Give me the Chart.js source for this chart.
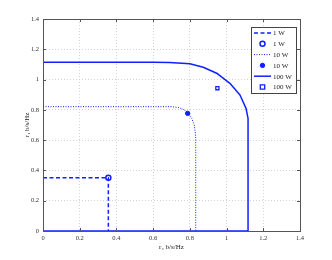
<!DOCTYPE html>
<html lang="en">
<head>
    <meta charset="UTF-8">
    <title>Rate Regions</title>
    <script src="https://cdn.jsdelivr.net/npm/chart.js"></script>
    <style>
        body { margin: 0; background: #ffffff; }
        canvas { display: block; }
    </style>
</head>
<body>
<canvas id="regionChart" width="332" height="260"></canvas>
<script>
    // boundary of each rate region (r2, r1)
    const r2_1W = [0, 0.356, 0.356];
    const r1_1W = [0.352, 0.352, 0];
    const r2_10W = [0, 0.70, 0.74, 0.77, 0.79, 0.81, 0.824, 0.831, 0.832, 0.832];
    const r1_10W = [0.821, 0.821, 0.815, 0.80, 0.775, 0.745, 0.70, 0.64, 0.58, 0];
    const r2_100W = [0, 0, 0.60, 0.69, 0.80, 0.873, 0.946, 1.018, 1.073, 1.106, 1.117, 1.117, 0];
    const r1_100W = [0, 1.114, 1.114, 1.112, 1.104, 1.081, 1.042, 0.975, 0.898, 0.81, 0.744, 0, 0];

    // operating points
    const pt1W = [0.356, 0.352];
    const pt10W = [0.788, 0.777];
    const pt100W = [0.95, 0.943];

    const tickVals = [0, 0.2, 0.4, 0.6, 0.8, 1, 1.2, 1.4];
    const legendLabels = ['1 W', '1 W', '10 W', '10 W', '100 W', '100 W'];

    const blue = '#1020ff';
    const serif = "'Liberation Serif', 'DejaVu Serif', serif";

    function toPts(xs, ys) {
        return xs.map((x, i) => ({ x: x, y: ys[i] }));
    }

    const frame = {
        id: 'frame',
        afterDraw(chart) {
            const ctx = chart.ctx;
            const a = chart.chartArea;
            const xs = chart.scales.x, ys = chart.scales.y;
            ctx.save();
            ctx.strokeStyle = '#555';
            ctx.lineWidth = 1;
            ctx.strokeRect(a.left + 0.5, a.top + 0.5, a.right - a.left, a.bottom - a.top);
            ctx.beginPath();
            tickVals.forEach(v => {
                const px = Math.round(xs.getPixelForValue(v)) + 0.5;
                const py = Math.round(ys.getPixelForValue(v)) + 0.5;
                ctx.moveTo(px, a.bottom); ctx.lineTo(px, a.bottom - 3);
                ctx.moveTo(px, a.top); ctx.lineTo(px, a.top + 3);
                ctx.moveTo(a.left, py); ctx.lineTo(a.left + 3, py);
                ctx.moveTo(a.right, py); ctx.lineTo(a.right - 3, py);
            });
            ctx.stroke();

            // legend box
            const bx = 251, by = 27, bw = 45, bh = 66, rowH = 10.8;
            ctx.fillStyle = '#fff';
            ctx.fillRect(bx, by, bw, bh);
            ctx.strokeStyle = '#444';
            ctx.strokeRect(bx + 0.5, by + 0.5, bw, bh);
            ctx.font = '7px ' + serif;
            ctx.textBaseline = 'middle';
            chart.data.datasets.forEach((ds, i) => {
                const cy = by + 6 + rowH * i;
                ctx.strokeStyle = ds.borderColor;
                ctx.fillStyle = ds.backgroundColor;
                ctx.lineWidth = ds.borderWidth;
                if (ds.showLine) {
                    ctx.setLineDash(ds.borderDash || []);
                    ctx.beginPath();
                    ctx.moveTo(254, cy); ctx.lineTo(271, cy);
                    ctx.stroke();
                    ctx.setLineDash([]);
                } else {
                    const cx = 262.5, r = ds.pointRadius;
                    ctx.beginPath();
                    if (ds.pointStyle === 'rect') ctx.rect(cx - r, cy - r, 2 * r, 2 * r);
                    else ctx.arc(cx, cy, r, 0, Math.PI * 2);
                    ctx.fill();
                    ctx.stroke();
                }
                ctx.fillStyle = '#222';
                ctx.fillText(legendLabels[i], 273, cy + 0.5);
            });
            ctx.restore();
        }
    };

    new Chart(document.getElementById('regionChart'), {
        type: 'scatter',
        data: {
            datasets: [
                { label: legendLabels[0], data: toPts(r2_1W, r1_1W), showLine: true, borderColor: blue, backgroundColor: blue,
                  borderWidth: 1.5, borderDash: [4, 2.5], pointRadius: 0 },
                { label: legendLabels[1], data: [{ x: pt1W[0], y: pt1W[1] }], showLine: false, borderColor: blue, backgroundColor: '#fff',
                  borderWidth: 1.5, pointStyle: 'circle', pointRadius: 2.5 },
                { label: legendLabels[2], data: toPts(r2_10W, r1_10W), showLine: true, borderColor: blue, backgroundColor: blue,
                  borderWidth: 1, borderDash: [1, 1.5], pointRadius: 0 },
                { label: legendLabels[3], data: [{ x: pt10W[0], y: pt10W[1] }], showLine: false, borderColor: blue, backgroundColor: blue,
                  borderWidth: 1, pointStyle: 'circle', pointRadius: 2.2 },
                { label: legendLabels[4], data: toPts(r2_100W, r1_100W), showLine: true, borderColor: blue, backgroundColor: blue,
                  borderWidth: 1.5, pointRadius: 0 },
                { label: legendLabels[5], data: [{ x: pt100W[0], y: pt100W[1] }], showLine: false, borderColor: blue, backgroundColor: '#fff',
                  borderWidth: 1.3, pointStyle: 'rect', pointRadius: 2.2 }
            ]
        },
        options: {
            responsive: false,
            animation: false,
            layout: { padding: { top: 19, right: 32, left: 20, bottom: 9 } },
            plugins: { legend: { display: false }, tooltip: { enabled: false } },
            elements: { line: { tension: 0, borderJoinStyle: 'round' } },
            scales: {
                x: {
                    min: 0, max: 1.4,
                    afterFit: s => { s.height = 20; },
                    afterBuildTicks: s => { s.ticks = tickVals.map(v => ({ value: v })); },
                    grid: { color: '#c8c8c8', lineWidth: 0.8, drawTicks: false },
                    border: { display: false, dash: [1, 2] },
                    ticks: { padding: 3, color: '#333', font: { family: serif, size: 6.5 }, maxRotation: 0,
                             callback: v => String(+v.toFixed(1)) },
                    title: { display: true, text: 'r\u2082 b/s/Hz', color: '#222', font: { family: serif, size: 7 },
                             padding: { top: 0, bottom: 0 } }
                },
                y: {
                    min: 0, max: 1.4,
                    afterFit: s => { s.width = 23; },
                    afterBuildTicks: s => { s.ticks = tickVals.map(v => ({ value: v })); },
                    grid: { color: '#c8c8c8', lineWidth: 0.8, drawTicks: false },
                    border: { display: false, dash: [1, 2] },
                    ticks: { padding: 4, color: '#333', font: { family: serif, size: 6.5 },
                             callback: v => String(+v.toFixed(1)) },
                    title: { display: true, text: 'r\u2081 b/s/Hz', color: '#222', font: { family: serif, size: 7 },
                             padding: { top: 3, bottom: 0 } }
                }
            }
        },
        plugins: [frame]
    });
</script>
</body>
</html>
